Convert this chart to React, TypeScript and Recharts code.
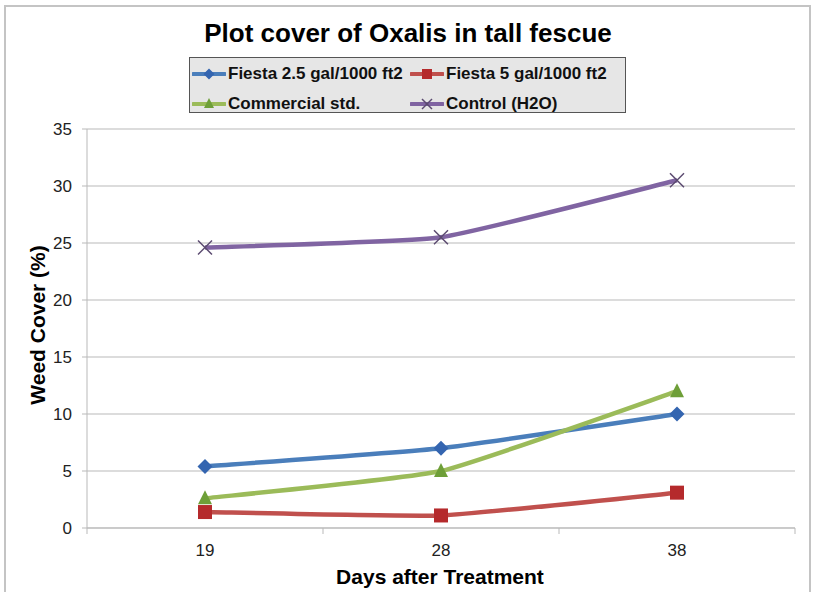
import React from 'react';
import { LineChart, Line, XAxis, YAxis, CartesianGrid } from 'recharts';

const days = ['19', '28', '38'];
const fiesta25 = [5.4, 7.0, 10.0];
const fiesta5 = [1.4, 1.1, 3.1];
const commercial = [2.6, 5.0, 12.0];
const control = [24.6, 25.5, 30.5];
const yTicks = [0, 5, 10, 15, 20, 25, 30, 35];

const data = days.map((d, i) => ({
  day: d,
  fiesta25: fiesta25[i],
  fiesta5: fiesta5[i],
  commercial: commercial[i],
  control: control[i],
}));

const FONT = '"Liberation Sans", Arial, sans-serif';
const GRID = '#b9b9b9';
const BAND = 236; // width of one category band
const SMOOTH = 1 / 14; // excel's smoothing is only a slight rounding at the joints here

type Kind = 'diamond' | 'square' | 'triangle' | 'cross';

const series: { key: string; name: string; stroke: string; fill: string; kind: Kind }[] = [
  { key: 'fiesta25', name: 'Fiesta 2.5 gal/1000 ft2', stroke: '#4a7ebb', fill: '#3465b0', kind: 'diamond' },
  { key: 'fiesta5', name: 'Fiesta 5 gal/1000 ft2', stroke: '#c0504d', fill: '#b52a2c', kind: 'square' },
  { key: 'commercial', name: 'Commercial std.', stroke: '#9bbb59', fill: '#6e9f38', kind: 'triangle' },
  { key: 'control', name: 'Control (H2O)', stroke: '#8064a2', fill: '#5b4a70', kind: 'cross' },
];

// catmull-rom style beziers with a low tension
const softCurve = (ctx: any) => {
  let pts: [number, number][] = [];
  return {
    areaStart() {},
    areaEnd() {},
    lineStart() {
      pts = [];
    },
    point(x: number, y: number) {
      pts.push([+x, +y]);
    },
    lineEnd() {
      if (!pts.length) return;
      ctx.moveTo(pts[0][0], pts[0][1]);
      for (let i = 0; i < pts.length - 1; i++) {
        const p0 = pts[Math.max(i - 1, 0)];
        const p1 = pts[i];
        const p2 = pts[i + 1];
        const p3 = pts[Math.min(i + 2, pts.length - 1)];
        ctx.bezierCurveTo(
          p1[0] + (p2[0] - p0[0]) * SMOOTH,
          p1[1] + (p2[1] - p0[1]) * SMOOTH,
          p2[0] - (p3[0] - p1[0]) * SMOOTH,
          p2[1] - (p3[1] - p1[1]) * SMOOTH,
          p2[0],
          p2[1],
        );
      }
    },
  };
};

function Marker({ cx, cy, kind, fill, s = 7 }: { cx: number; cy: number; kind: Kind; fill: string; s?: number }) {
  if (kind === 'diamond')
    return <polygon points={`${cx},${cy - s - 0.5} ${cx + s + 0.5},${cy} ${cx},${cy + s + 0.5} ${cx - s - 0.5},${cy}`} fill={fill} />;
  if (kind === 'square') return <rect x={cx - s} y={cy - s} width={2 * s} height={2 * s} fill={fill} />;
  if (kind === 'triangle')
    return <polygon points={`${cx},${cy - s - 1} ${cx + s},${cy + s - 1} ${cx - s},${cy + s - 1}`} fill={fill} />;
  return (
    <g stroke={fill} strokeWidth={1.5}>
      <line x1={cx - s} y1={cy - s} x2={cx + s} y2={cy + s} />
      <line x1={cx - s} y1={cy + s} x2={cx + s} y2={cy - s} />
    </g>
  );
}

const XTick = (props: any) => {
  const { x, y, payload, index } = props;
  const top = y - 14;
  return (
    <g>
      <line x1={x - BAND / 2} y1={top} x2={x - BAND / 2} y2={top + 6} stroke={GRID} />
      {index === days.length - 1 && <line x1={x + BAND / 2} y1={top} x2={x + BAND / 2} y2={top + 6} stroke={GRID} />}
      <text x={x} y={y + 14} textAnchor="middle" fontSize={17} fontFamily={FONT} fill="#222">
        {payload.value}
      </text>
    </g>
  );
};

function LegendBox() {
  return (
    <div
      style={{
        position: 'absolute',
        left: 189,
        top: 57,
        width: 435,
        height: 54,
        background: '#e6e6e6',
        border: '1px solid #555',
        fontFamily: FONT,
        fontWeight: 'bold',
        fontSize: 17,
        color: '#111',
      }}
    >
      {series.map((s, i) => (
        <div
          key={s.key}
          style={{
            position: 'absolute',
            left: i % 2 === 0 ? 2 : 220,
            top: i < 2 ? 5 : 35,
            height: 22,
            display: 'flex',
            alignItems: 'center',
            whiteSpace: 'nowrap',
          }}
        >
          <svg width={34} height={16} style={{ marginRight: 2 }}>
            <line x1={1} y1={8} x2={33} y2={8} stroke={s.stroke} strokeWidth={4} strokeLinecap="round" />
            <Marker cx={17} cy={8} kind={s.kind} fill={s.fill} s={5} />
          </svg>
          {s.name}
        </div>
      ))}
    </div>
  );
}

export default function App() {
  return (
    <div style={{ position: 'absolute', left: 0, top: 0, width: 817, height: 592, background: '#fff', overflow: 'hidden' }}>
      <svg width={817} height={592} style={{ position: 'absolute', left: 0, top: 0 }}>
        <polyline points="5,592 5,6 810,6 810,592" fill="none" stroke="#c4c4c4" strokeWidth={2} />
        <text x={408} y={42} textAnchor="middle" fontSize={26} fontWeight="bold" fontFamily={FONT} fill="#000">
          Plot cover of Oxalis in tall fescue
        </text>
        <text x={440} y={584} textAnchor="middle" fontSize={21} fontWeight="bold" fontFamily={FONT} fill="#000">
          Days after Treatment
        </text>
        <text
          x={0}
          y={0}
          transform="translate(45,325) rotate(-90)"
          textAnchor="middle"
          fontSize={21}
          fontWeight="bold"
          fontFamily={FONT}
          fill="#000"
        >
          Weed Cover (%)
        </text>
      </svg>
      <div style={{ position: 'absolute', left: 0, top: 0 }}>
        <LineChart width={817} height={592} data={data} margin={{ top: 129, right: 22, bottom: 34, left: 27 }}>
          <CartesianGrid horizontal vertical={false} stroke={GRID} strokeWidth={1.2} />
          <XAxis
            dataKey="day"
            scale="band"
            height={30}
            stroke={GRID}
            tickLine={false}
            tickSize={6}
            tickMargin={8}
            tick={<XTick />}
            interval={0}
          />
          <YAxis
            domain={[0, 35]}
            ticks={yTicks}
            width={60}
            stroke={GRID}
            tickSize={5}
            tickMargin={10}
            tick={{ fontSize: 17, fontFamily: FONT, fill: '#222' }}
          />
          {series.map((s) => (
            <Line
              key={s.key}
              dataKey={s.key}
              name={s.name}
              type={softCurve as any}
              stroke={s.stroke}
              strokeWidth={4.5}
              isAnimationActive={false}
              dot={(p: any) => <Marker key={`${s.key}-${p.index}`} cx={p.cx} cy={p.cy} kind={s.kind} fill={s.fill} />}
              activeDot={false}
            />
          ))}
        </LineChart>
      </div>
      <LegendBox />
    </div>
  );
}
